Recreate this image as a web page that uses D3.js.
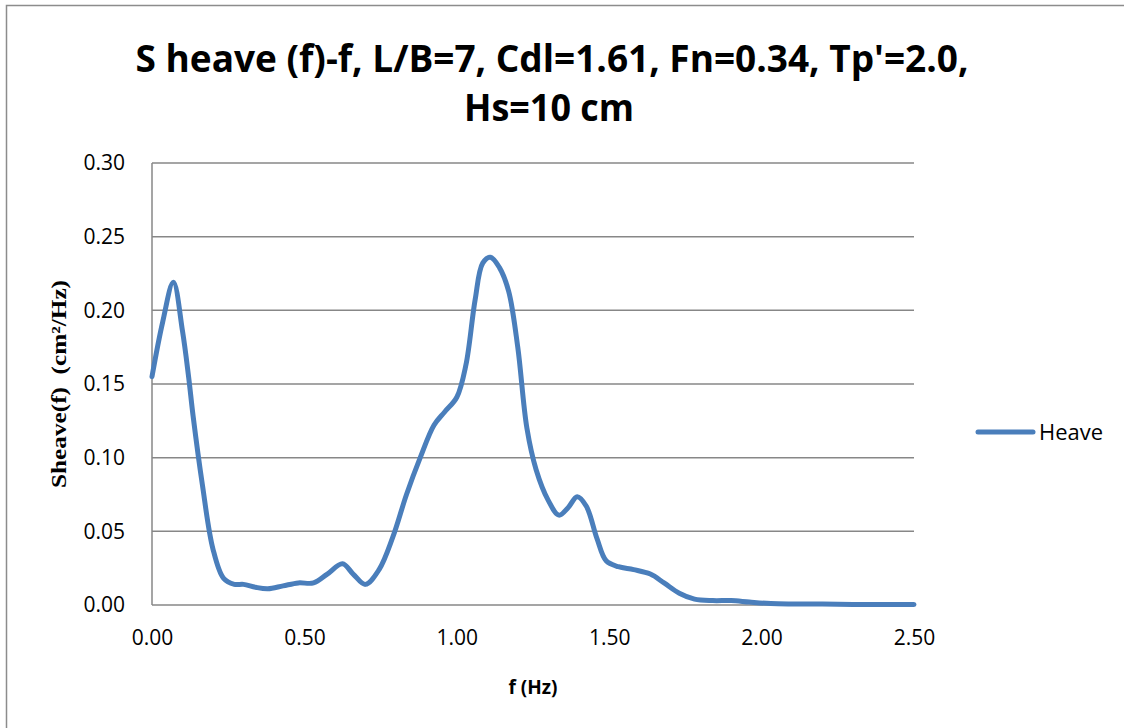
<!DOCTYPE html>
<html>
<head>
<meta charset="utf-8">
<script src="https://cdn.jsdelivr.net/npm/d3@7"></script>
<style>
  body { margin: 0; background: #fff; }
  svg { display: block; }
  text { fill: #000; }
</style>
</head>
<body>
<svg></svg>
<script>
// values
const freq = [0.00, 0.035, 0.07, 0.10, 0.12, 0.135, 0.165, 0.20, 0.235, 0.27, 0.30, 0.34, 0.38, 0.43, 0.48, 0.53,
  0.575, 0.625, 0.66, 0.70, 0.745, 0.79, 0.835, 0.88, 0.925, 0.96, 1.00, 1.03, 1.06, 1.085, 1.11, 1.14,
  1.17, 1.20, 1.23, 1.26, 1.30, 1.335, 1.365, 1.395, 1.425, 1.46, 1.49, 1.53, 1.58, 1.635, 1.68, 1.73,
  1.78, 1.84, 1.90, 1.96, 2.03, 2.10, 2.20, 2.30, 2.40, 2.50];
const heave = [0.155, 0.192, 0.219, 0.186, 0.155, 0.128, 0.082, 0.038, 0.018, 0.014, 0.014, 0.012, 0.011, 0.013, 0.015, 0.015,
  0.021, 0.028, 0.021, 0.014, 0.024, 0.046, 0.075, 0.100, 0.122, 0.131, 0.141, 0.163, 0.207, 0.232, 0.236, 0.229,
  0.213, 0.175, 0.120, 0.092, 0.071, 0.061, 0.066, 0.0735, 0.067, 0.045, 0.030, 0.026, 0.024, 0.021, 0.015, 0.008,
  0.004, 0.003, 0.003, 0.002, 0.001, 0.0007, 0.0006, 0.0004, 0.0003, 0.0003];
const xTicks = [0, 0.5, 1.0, 1.5, 2.0, 2.5];
const yTicks = [0, 0.05, 0.10, 0.15, 0.20, 0.25, 0.30];
const seriesName = 'Heave';
const titleLines = ["S heave (f)-f, L/B=7, Cdl=1.61, Fn=0.34, Tp'=2.0,", 'Hs=10 cm'];

const WIDTH = 1124;
const HEIGHT = 728;
const plot = { left: 152, right: 914, top: 163, bottom: 605 };
const BLUE = '#4a7ebb';
const GRID = '#878787';

const svg = d3.select('svg').attr('width', WIDTH).attr('height', HEIGHT);

// outer chart frame
svg.append('rect')
  .attr('x', 6.5).attr('y', 5.5)
  .attr('width', 1140).attr('height', 800)
  .attr('fill', '#fff').attr('stroke', '#8c8c8c').attr('stroke-width', 1.5);

const x = d3.scaleLinear().domain([0, 2.5]).range([plot.left, plot.right]);
const y = d3.scaleLinear().domain([0, 0.3]).range([plot.bottom, plot.top]);

// horizontal grid lines
svg.append('g')
  .selectAll('line')
  .data(yTicks)
  .enter()
  .append('line')
  .attr('x1', plot.left).attr('x2', plot.right)
  .attr('y1', d => y(d)).attr('y2', d => y(d))
  .attr('stroke', GRID).attr('stroke-width', 1.5);

// left axis line
svg.append('line')
  .attr('x1', plot.left).attr('x2', plot.left)
  .attr('y1', plot.top).attr('y2', plot.bottom)
  .attr('stroke', GRID).attr('stroke-width', 1.5);

// y tick labels
const yAxis = d3.axisLeft(y).tickValues(yTicks).tickFormat(d3.format('.2f')).tickSize(0).tickPadding(27);
const gy = svg.append('g').attr('transform', `translate(${plot.left},0)`).call(yAxis);
gy.select('.domain').remove();
gy.selectAll('text')
  .attr('font-family', '"Open Sans", sans-serif')
  .attr('font-size', 21)
  .attr('fill', '#000');

// x tick labels
const xAxis = d3.axisBottom(x).tickValues(xTicks).tickFormat(d3.format('.2f')).tickSize(0).tickPadding(25);
const gx = svg.append('g').attr('transform', `translate(0,${plot.bottom})`).call(xAxis);
gx.select('.domain').remove();
gx.selectAll('text')
  .attr('font-family', '"Open Sans", sans-serif')
  .attr('font-size', 21)
  .attr('fill', '#000');

// series line
const points = freq.map((f, i) => ({ f: f, v: heave[i] }));
const line = d3.line()
  .x(d => x(d.f))
  .y(d => y(d.v))
  .curve(d3.curveCatmullRom.alpha(0.5));

svg.append('path')
  .datum(points)
  .attr('d', line)
  .attr('fill', 'none')
  .attr('stroke', BLUE)
  .attr('stroke-width', 5)
  .attr('stroke-linejoin', 'round')
  .attr('stroke-linecap', 'round');

// title
const title = svg.append('g');
title.append('text')
  .attr('x', 552).attr('y', 72)
  .attr('text-anchor', 'middle')
  .attr('font-family', '"Open Sans", sans-serif')
  .attr('font-weight', 'bold')
  .attr('font-size', 37)
  .attr('textLength', 833)
  .attr('lengthAdjust', 'spacingAndGlyphs')
  .text(titleLines[0]);
title.append('text')
  .attr('x', 549).attr('y', 121)
  .attr('text-anchor', 'middle')
  .attr('font-family', '"Open Sans", sans-serif')
  .attr('font-weight', 'bold')
  .attr('font-size', 37)
  .attr('textLength', 170)
  .attr('lengthAdjust', 'spacingAndGlyphs')
  .text(titleLines[1]);

// axis titles
svg.append('text')
  .attr('x', 533).attr('y', 694)
  .attr('text-anchor', 'middle')
  .attr('font-family', '"Open Sans", sans-serif')
  .attr('font-weight', 'bold')
  .attr('font-size', 19)
  .text('f (Hz)');

svg.append('text')
  .attr('transform', 'translate(66,384) rotate(-90)')
  .attr('text-anchor', 'middle')
  .attr('font-family', '"Liberation Serif", serif')
  .attr('font-weight', 'bold')
  .attr('font-size', 22)
  .attr('textLength', 208)
  .attr('lengthAdjust', 'spacingAndGlyphs')
  .attr('xml:space', 'preserve')
  .text('Sheave(f)  (cm²/Hz)');

// legend
const legend = svg.append('g').attr('transform', 'translate(978,432)');
legend.append('line')
  .attr('x1', 0).attr('x2', 55)
  .attr('stroke', BLUE).attr('stroke-width', 5)
  .attr('stroke-linecap', 'round');
legend.append('text')
  .attr('x', 61).attr('y', 8)
  .attr('font-family', '"Open Sans", sans-serif')
  .attr('font-size', 21)
  .attr('textLength', 64)
  .attr('lengthAdjust', 'spacingAndGlyphs')
  .text(seriesName);
</script>
</body>
</html>
